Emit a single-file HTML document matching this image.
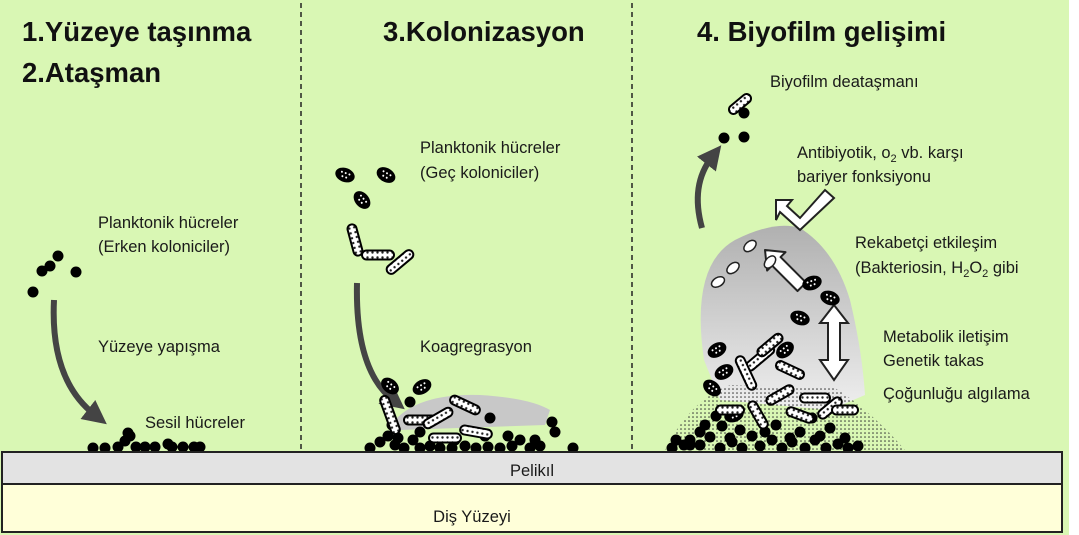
<!DOCTYPE html>
<html><head><meta charset="utf-8"><style>
html,body{margin:0;padding:0;background:#fff;width:1079px;height:535px;overflow:hidden}
svg{display:block;font-family:"Liberation Sans",sans-serif}
.t{font-size:27.5px;font-weight:bold;fill:#111}
.l{font-size:16.5px;fill:#1a1a1a}
</style></head><body>
<svg id="s" width="1079" height="535" viewBox="0 0 1079 535">
<defs>
<pattern id="dots" width="5" height="5" patternUnits="userSpaceOnUse"><rect width="5" height="5" fill="#fff"/><circle cx="2.5" cy="2.5" r="1.2" fill="#222"/></pattern>
<pattern id="stip" width="4" height="4" patternUnits="userSpaceOnUse"><circle cx="1" cy="1" r="0.8" fill="#333"/></pattern>
<linearGradient id="gr" x1="0" y1="0" x2="0" y2="1"><stop offset="0" stop-color="#b0b0b0"/><stop offset="1" stop-color="#efefef"/></linearGradient>
<marker id="ah" markerWidth="4" markerHeight="4" refX="1.5" refY="2" orient="auto"><path d="M0,0 L4,2 L0,4 Z" fill="#444"/></marker>
</defs>
<rect x="0" y="0" width="1069" height="535" fill="#d9f7b4"/>
<line x1="301" y1="3" x2="301" y2="452" stroke="#222" stroke-width="1.5" stroke-dasharray="5,4"/>
<line x1="632" y1="3" x2="632" y2="452" stroke="#222" stroke-width="1.5" stroke-dasharray="5,4"/>
<text class="t" x="22" y="41">1.Yüzeye taşınma</text>
<text class="t" x="22" y="82">2.Ataşman</text>
<text class="t" x="383" y="41">3.Kolonizasyon</text>
<text class="t" x="697" y="41">4. Biyofilm gelişimi</text>
<g id="labels">
<text class="l" x="98" y="228">Planktonik hücreler</text>
<text class="l" x="98" y="252">(Erken koloniciler)</text>
<text class="l" x="98" y="352">Yüzeye yapışma</text>
<text class="l" x="145" y="428">Sesil hücreler</text>
<text class="l" x="420" y="153">Planktonik hücreler</text>
<text class="l" x="420" y="178">(Geç koloniciler)</text>
<text class="l" x="420" y="352">Koagregrasyon</text>
<text class="l" x="770" y="87">Biyofilm deataşmanı</text>
<text class="l" x="797" y="158">Antibiyotik, o<tspan font-size="11" dy="4">2</tspan><tspan dy="-4"> vb. karşı</tspan></text>
<text class="l" x="797" y="182">bariyer fonksiyonu</text>
<text class="l" x="855" y="248">Rekabetçi etkileşim</text>
<text class="l" x="855" y="273">(Bakteriosin, H<tspan font-size="11" dy="4">2</tspan><tspan dy="-4">O</tspan><tspan font-size="11" dy="4">2</tspan><tspan dy="-4"> gibi</tspan></text>
<text class="l" x="883" y="342">Metabolik iletişim</text>
<text class="l" x="883" y="366">Genetik takas</text>
<text class="l" x="883" y="399">Çoğunluğu algılama</text>
</g>
<path d="M395,420 Q420,393 480,395 Q530,398 550,410 L545,425 L400,430 Z" fill="#c8c8c8"/>
<path d="M704,360 Q690,265 735,240 Q775,220 800,228 Q835,250 850,300 Q862,350 865,395 L830,410 L720,400 Z" fill="url(#gr)"/>
<path d="M665,450 Q690,400 730,385 L835,388 Q870,410 905,450 Z" fill="url(#stip)"/>
<path d="M54,300 Q50,380 95,415" stroke="#444" stroke-width="6" fill="none" marker-end="url(#ah)"/>
<path d="M357,283 Q355,370 393,400" stroke="#444" stroke-width="6" fill="none" marker-end="url(#ah)"/>
<path d="M702,228 Q690,185 712,157" stroke="#444" stroke-width="6" fill="none" marker-end="url(#ah)"/>
<path d="M0,0 L16,-13 L16,-6 L52,-6 L52,6 L16,6 L16,13 Z" transform="translate(765,250) rotate(45)" fill="#fff" stroke="#222" stroke-width="2" stroke-linejoin="round"/>
<path d="M834,305 L820,323 L828,323 L828,360 L820,360 L834,380 L848,360 L840,360 L840,323 L848,323 Z" fill="#fff" stroke="#222" stroke-width="2"/>
<path d="M776,200 L792,200 L787,206 L800,218 L825,190 L834,198 L800,230 L780,212 L776,220 Z" fill="#fff" stroke="#222" stroke-width="2"/>
<g id="cells"></g>
<rect x="2" y="452" width="1060" height="32" fill="#e3e3e3" stroke="#222" stroke-width="2"/>
<text class="l" x="532" y="476" text-anchor="middle" font-size="19">Pelikıl</text>
<rect x="2" y="484" width="1060" height="48" fill="#ffffd9" stroke="#222" stroke-width="2"/>
<text class="l" x="472" y="522" text-anchor="middle" font-size="19">Diş Yüzeyi</text>
</svg>
<script>
const cocci=[[33,292],[42,271],[50,266],[58,256],[76,272],[93,448],[105,448],[118,447],[125,441],[130,436],[136,447],[145,447],[155,447],[168,444],[172,447],[183,447],[194,447],[200,447],[128,433],[370,448],[380,442],[388,436],[395,445],[404,448],[413,440],[420,448],[430,446],[440,448],[452,448],[465,446],[476,448],[488,447],[500,448],[512,446],[520,440],[530,448],[540,446],[552,422],[555,432],[573,448],[392,425],[410,402],[490,418],[508,436],[535,440],[398,438],[420,432],[455,440],[485,436],[724,138],[744,137],[744,113],[672,448],[684,445],[690,440],[700,445],[710,437],[720,448],[732,442],[742,448],[752,436],[760,446],[772,440],[782,448],[792,442],[805,448],[815,440],[826,448],[838,444],[848,448],[858,446],[700,432],[716,416],[722,426],[740,430],[776,425],[800,432],[812,418],[830,428],[690,445],[705,425],[730,438],[765,432],[790,438],[820,436],[845,438],[676,440]];
const ovals=[[345,175,20],[386,175,30],[362,200,50],[390,386,40],[422,387,-30],[812,283,-20],[830,298,20],[800,318,20],[717,350,-30],[724,372,-30],[712,388,40],[785,350,-40],[734,415,-20]];
const rods=[[355,240,75,32],[378,255,0,32],[400,262,-40,32],[420,420,0,32],[465,405,25,32],[445,438,0,32],[476,432,10,32],[390,415,70,40],[438,418,-30,32],[740,104,-40,26],[760,358,-40,34],[770,345,-40,30],[746,373,65,36],[790,370,25,30],[780,395,-30,30],[815,398,0,30],[830,408,-40,28],[730,410,0,28],[758,415,60,30],[800,415,20,28],[845,410,0,26]];
const pale=[[750,246,-40],[770,262,-50],[733,268,-40],[718,282,-30]];
const g=document.getElementById('cells');
const NS='http://www.w3.org/2000/svg';
function mk(t,a){const e=document.createElementNS(NS,t);for(const k in a)e.setAttribute(k,a[k]);g.appendChild(e);return e;}
cocci.forEach(([x,y])=>{const e=mk('circle',{cx:x,cy:y,r:5.5,fill:'#000'});

});
ovals.forEach(([x,y,a])=>{const e=mk('ellipse',{cx:x,cy:y,rx:10,ry:7,fill:'#000',transform:`rotate(${a} ${x} ${y})`});


[[-4,-2],[0,-2],[4,-2],[-2,2],[2,2]].forEach(([dx,dy])=>mk('circle',{cx:x+dx,cy:y+dy,r:1,fill:'#fff',transform:`rotate(${a} ${x} ${y})`}));});
rods.forEach(([x,y,a,L])=>{const e=mk('rect',{x:x-L/2,y:y-4.5,width:L,height:9,rx:4.5,fill:'url(#dots)',stroke:'#000','stroke-width':2,transform:`rotate(${a} ${x} ${y})`});

});
pale.forEach(([x,y,a])=>{const e=mk('ellipse',{cx:x,cy:y,rx:7,ry:4.5,fill:'#fff',stroke:'#222','stroke-width':1.5,transform:`rotate(${a} ${x} ${y})`});

});
</script>
</body></html>
